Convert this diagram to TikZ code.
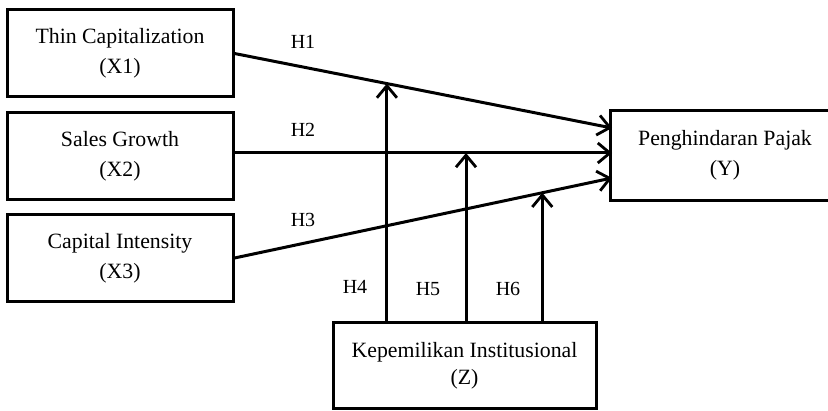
\documentclass[tikz,border=0pt]{standalone}
\usepackage{fontspec}
\setmainfont{Liberation Serif}
\usetikzlibrary{arrows.meta,calc}
\begin{document}
\begin{tikzpicture}[x=1pt,y=-1pt,
  varbox/.style={draw,line width=3pt,minimum width=226pt,minimum height=87pt,inner sep=0pt,align=center,font=\fontsize{21.8}{30}\selectfont},
  arr/.style={line width=3pt,-{Straight Barb[length=12pt,width=20pt,line width=2.8pt]}},
  lbl/.style={font=\fontsize{20}{24}\selectfont,inner sep=0pt}]
\useasboundingbox (0,0) rectangle (828,411);
\clip (0,0) rectangle (828,411);
\node[varbox] (X1) at (120,53.5) {Thin Capitalization\\(X1)};
\node[varbox] (X2) at (120,156.5) {Sales Growth\\(X2)};
\node[varbox] (X3) at (120,258) {Capital Intensity\\(X3)};
\node[varbox,draw=none] (Y) at (725,155.5) {Penghindaran Pajak\\(Y)};
\draw[line width=3pt] ([xshift=20pt]Y.north east) -- (Y.north west) -- (Y.south west) -- ([xshift=20pt]Y.south east);
\node[varbox,minimum width=263pt,minimum height=86pt,font=\fontsize{21.8}{27}\selectfont] (Z) at (464.5,366) {Kepemilikan Institusional\\(Z)};
\coordinate (y1) at (612,128);
\coordinate (y2) at (612,153);
\coordinate (y3) at (612,178);
\coordinate (s2) at (233,153);
\draw[arr] (X1.east) -- (y1);
\draw[arr] (s2) -- (y2);
\draw[arr] (X3.east) -- (y3);
\path (X1.east) -- (y1) coordinate[pos=0.4037] (m1);
\path (s2) -- (y2) coordinate[pos=0.6148] (m2);
\path (X3.east) -- (y3) coordinate[pos=0.8153] (m3);
\draw[arr] (m1 |- Z.north) -- (m1);
\draw[arr] (m2 |- Z.north) -- (m2);
\draw[arr] (m3 |- Z.north) -- (m3);
\node[lbl] (h1) at (303,42) {H1};
\node[lbl] (h2) at (303,130) {H2};
\node[lbl] (h3) at (303,220) {H3};
\node[lbl] (h4) at (355,287) {H4};
\node[lbl] (h5) at (428,289) {H5};
\node[lbl] (h6) at (508,289) {H6};
\end{tikzpicture}
\end{document}
